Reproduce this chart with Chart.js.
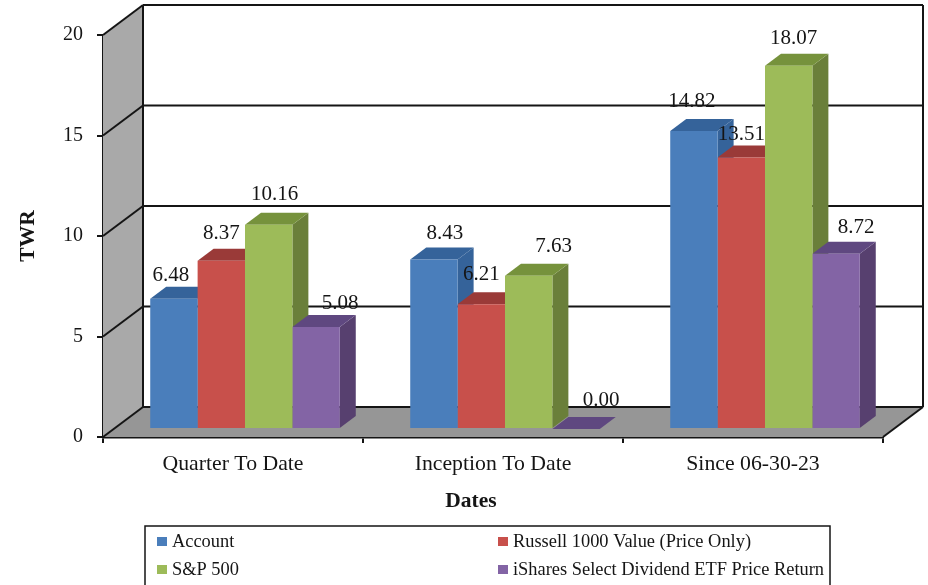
<!DOCTYPE html>
<html>
<head>
<meta charset="utf-8">
<style>
  html, body { margin: 0; padding: 0; background: #fff; overflow: hidden; }
  canvas { display: block; }
</style>
<script src="https://cdn.jsdelivr.net/npm/chart.js@4"></script>
</head>
<body>
<canvas id="twrChart" width="928" height="585"></canvas>
<script>
var periods = ["Quarter To Date", "Inception To Date", "Since 06-30-23"];
var account = [6.48, 8.43, 14.82];
var russell = [8.37, 6.21, 13.51];
var sp500 = [10.16, 7.63, 18.07];
var ishares = [5.08, 0.00, 8.72];
var yTicks = [0, 5, 10, 15, 20];

var seriesNames = ["Account", "Russell 1000 Value (Price Only)", "S&P 500", "iShares Select Dividend ETF Price Return"];
var frontColors = ["#4a7ebb", "#c8504b", "#9dbb59", "#8364a5"];
var sideColors = ["#35639a", "#953735", "#6a7f3a", "#57406f"];
var topColors = ["#35639a", "#9a3a38", "#76923c", "#5f4880"];

// nudges of each value label from the top centre of its bar, per series
var labelDx = [[-3, 11, -2], [0, 0, 0], [6, 25, 5], [24, 25, 20]];
var labelDy = [[-23, -26, -30], [-27, -30, -23], [-30, -29, -27], [-23, -29, -26]];

var SERIF = "'Liberation Serif', 'Times New Roman', serif";
var INK = "#151515";

// depth of the box and of the bars, in pixels
var WALL_DX = 40, WALL_DY = -30;
var BAR_DX = 12, BAR_DY = -8;
var SIDE_DX = 16, SIDE_DY = -12;

function poly(ctx, pts, fill) {
  ctx.beginPath();
  ctx.moveTo(pts[0][0], pts[0][1]);
  for (var i = 1; i < pts.length; i++) ctx.lineTo(pts[i][0], pts[i][1]);
  ctx.closePath();
  if (fill) { ctx.fillStyle = fill; ctx.fill(); }
}

function segment(ctx, x1, y1, x2, y2) {
  ctx.beginPath();
  ctx.moveTo(x1, y1);
  ctx.lineTo(x2, y2);
  ctx.stroke();
}

// side wall, floor, grid lines and the bar depth faces, all behind the bar fronts
var boxPlugin = {
  id: "box3d",
  beforeDatasetsDraw: function(chart) {
    var ctx = chart.ctx, a = chart.chartArea, y = chart.scales.y;
    var bx = a.left + WALL_DX, bBottom = a.bottom + WALL_DY, bTop = a.top + WALL_DY, bRight = a.right + WALL_DX;
    ctx.save();
    poly(ctx, [[a.left, a.top], [bx, bTop], [bx, bBottom], [a.left, a.bottom]], "#a9a9a9");
    poly(ctx, [[a.left, a.bottom], [bx, bBottom], [bRight, bBottom], [a.right, a.bottom]], "#969696");
    ctx.strokeStyle = INK;
    ctx.lineWidth = 2;
    yTicks.forEach(function(v) {
      var py = y.getPixelForValue(v);
      segment(ctx, a.left, py, bx, py + WALL_DY);
      segment(ctx, bx, py + WALL_DY, bRight, py + WALL_DY);
    });
    segment(ctx, bx, bTop, bx, bBottom);
    segment(ctx, bRight, bTop, bRight, bBottom);
    segment(ctx, a.right, a.bottom, bRight, bBottom);

    ctx.translate(BAR_DX, BAR_DY);
    chart.data.datasets.forEach(function(ds, i) {
      chart.getDatasetMeta(i).data.forEach(function(el) {
        var l = el.x - el.width / 2, r = el.x + el.width / 2;
        poly(ctx, [[r, el.y], [r + SIDE_DX, el.y + SIDE_DY], [r + SIDE_DX, el.base + SIDE_DY], [r, el.base]], sideColors[i]);
        poly(ctx, [[l, el.y], [l + SIDE_DX, el.y + SIDE_DY], [r + SIDE_DX, el.y + SIDE_DY], [r, el.y]], topColors[i]);
      });
    });
    ctx.restore();
  },
  // the fronts share the same shift into the box
  beforeDatasetDraw: function(chart) {
    chart.ctx.save();
    chart.ctx.translate(BAR_DX, BAR_DY);
  },
  afterDatasetDraw: function(chart) {
    chart.ctx.restore();
  },
  afterDatasetsDraw: function(chart) {
    var ctx = chart.ctx;
    ctx.save();
    ctx.fillStyle = INK;
    ctx.textAlign = "center";
    ctx.textBaseline = "middle";
    ctx.font = "21px " + SERIF;
    chart.data.datasets.forEach(function(ds, i) {
      chart.getDatasetMeta(i).data.forEach(function(el, j) {
        ctx.fillText(ds.data[j].toFixed(2), el.x + BAR_DX + labelDx[i][j], el.y + BAR_DY + labelDy[i][j]);
      });
    });

    // x axis title sits left of the plot centre
    ctx.font = "bold 21.5px " + SERIF;
    ctx.fillText("Dates", 471, 501);

    // two-column legend box, cut off by the bottom edge
    ctx.strokeStyle = INK;
    ctx.lineWidth = 1.5;
    ctx.strokeRect(145, 526, 685, 70);
    ctx.font = "18.4px " + SERIF;
    ctx.textAlign = "left";
    var colX = [157, 498], rowY = [542, 570];
    seriesNames.forEach(function(name, i) {
      var x = colX[i % 2], py = rowY[i < 2 ? 0 : 1];
      ctx.fillStyle = frontColors[i];
      ctx.fillRect(x, py - 5, 10, 9);
      ctx.fillStyle = INK;
      ctx.fillText(name, x + 15, py);
    });
    ctx.restore();
  }
};

var ctx = document.getElementById("twrChart").getContext("2d");
var datasets = [account, russell, sp500, ishares].map(function(values, i) {
  return {
    label: seriesNames[i],
    data: values,
    backgroundColor: frontColors[i],
    borderWidth: 0,
    clip: false
  };
});

var myChart = new Chart(ctx, {
  type: "bar",
  data: { labels: periods, datasets: datasets },
  plugins: [boxPlugin],
  options: {
    responsive: false,
    animation: false,
    layout: { padding: { top: 35, right: 45, left: 0, bottom: 0 } },
    categoryPercentage: 0.729,
    barPercentage: 1,
    plugins: {
      legend: { display: false },
      tooltip: { enabled: false }
    },
    scales: {
      x: {
        afterFit: function(s) { s.height = 148; },
        grid: { drawOnChartArea: false, tickLength: 6, color: INK, lineWidth: 2 },
        border: { color: INK, width: 2.5 },
        ticks: { color: INK, font: { family: SERIF, size: 21.75 }, padding: 8, maxRotation: 0 }
      },
      y: {
        min: 0,
        max: 20,
        afterFit: function(s) { s.width = 103; },
        afterBuildTicks: function(s) {
          s.ticks = yTicks.map(function(v) { return { value: v }; });
        },
        grid: { drawOnChartArea: false, tickLength: 6, color: INK, lineWidth: 2 },
        border: { color: INK, width: 2 },
        title: {
          display: true,
          text: "TWR",
          color: INK,
          font: { family: SERIF, size: 21.5, weight: "bold" },
          padding: { top: 16, bottom: 0 }
        },
        ticks: { color: INK, font: { family: SERIF, size: 20 }, padding: 14 }
      }
    }
  }
});
</script>
</body>
</html>
